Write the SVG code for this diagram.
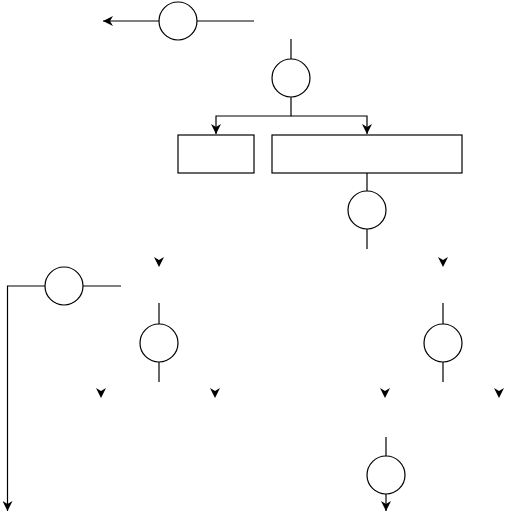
<svg xmlns="http://www.w3.org/2000/svg" width="506" height="515" viewBox="0 0 506 515">
<style>
.node{fill:#fff;stroke:#000;stroke-width:1.2}
.edge{fill:none;stroke:#000;stroke-width:1.2}
.ghost{fill:none;stroke:none}
</style>
<defs>
<marker id="arr" markerUnits="userSpaceOnUse" markerWidth="11" markerHeight="10" refX="10" refY="5" orient="auto" viewBox="0 0 11 10">
<path d="M0,0 L10,5 L0,10 L3,5 Z" fill="#000"/>
</marker>
</defs>
<rect width="506" height="515" fill="#fff"/>
<g id="connectors">
<path class="edge" d="M254,21 L103,21" marker-end="url(#arr)"/>
<path class="edge" d="M291,39 L291,59"/>
<path class="edge" d="M291,97 L291,116 L216,116 L216,134" marker-end="url(#arr)"/>
<path class="edge" d="M291,116 L367,116 L367,134" marker-end="url(#arr)"/>
<path class="edge" d="M367,173 L367,191"/>
<path class="edge" d="M367,229 L367,249"/>
<path class="edge" d="M121,286 L83,286"/>
<path class="edge" d="M45,286 L7.5,286 L7.5,511" marker-end="url(#arr)"/>
<path class="edge" d="M159,303 L159,324"/>
<path class="edge" d="M159,362 L159,382"/>
<path class="edge" d="M443,303 L443,324"/>
<path class="edge" d="M443,362 L443,382"/>
<path class="edge" d="M386,437 L386,456"/>
<path class="edge" d="M386,494 L386,511" marker-end="url(#arr)"/>
<path class="ghost" d="M159,262 L159,267" marker-end="url(#arr)"/>
<path class="ghost" d="M443,262 L443,267" marker-end="url(#arr)"/>
<path class="ghost" d="M101,393 L101,398" marker-end="url(#arr)"/>
<path class="ghost" d="M215,393 L215,398" marker-end="url(#arr)"/>
<path class="ghost" d="M385,393 L385,398" marker-end="url(#arr)"/>
<path class="ghost" d="M499,393 L499,398" marker-end="url(#arr)"/>
</g>
<g id="c1"><circle class="node" cx="178" cy="21" r="19"/></g>
<g id="c2"><circle class="node" cx="291" cy="78" r="19"/></g>
<g id="b1"><rect class="node" x="178" y="135" width="76" height="38"/></g>
<g id="b2"><rect class="node" x="272" y="135" width="190" height="38"/></g>
<g id="c3"><circle class="node" cx="367" cy="210" r="19"/></g>
<g id="c4"><circle class="node" cx="64" cy="286" r="19"/></g>
<g id="c5"><circle class="node" cx="159" cy="343" r="19"/></g>
<g id="c6"><circle class="node" cx="443" cy="343" r="19"/></g>
<g id="c7"><circle class="node" cx="386" cy="475" r="19"/></g>
</svg>
